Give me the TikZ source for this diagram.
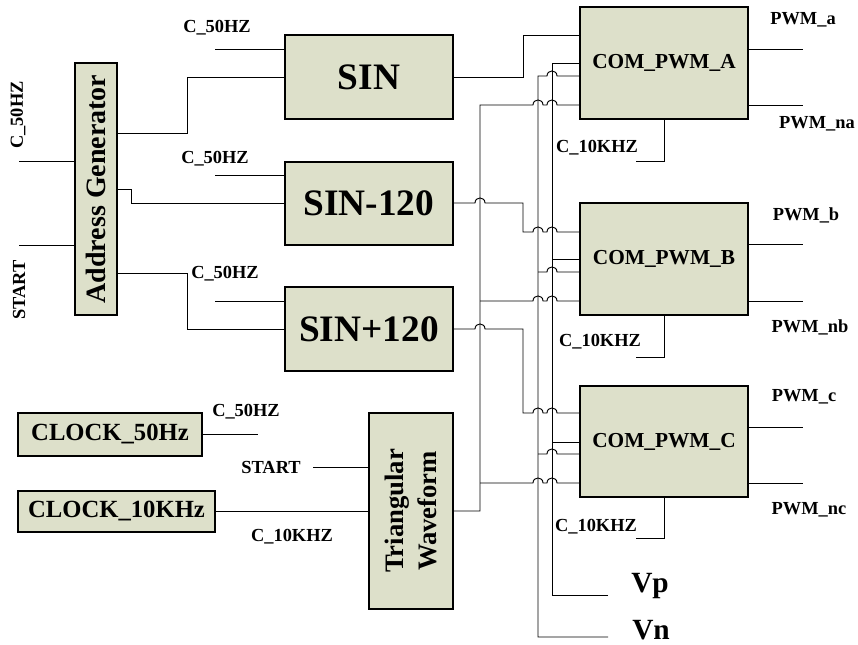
\documentclass[tikz,border=0pt]{standalone}
\usepackage{fontspec}
\setmainfont{Liberation Serif}
\definecolor{boxfill}{HTML}{DDE0CA}
\newcommand{\jmp}[2]{-- ({#1-5},#2) .. controls ({#1-5},{#2-6.7}) and ({#1+5},{#2-6.7}) .. ({#1+5},#2)}
\begin{document}
\begin{tikzpicture}[x=0.75pt,y=-0.75pt,
  blk/.style={draw=black, line width=0.9pt, fill=boxfill, inner sep=0pt},
  wire/.style={line width=0.7pt},
  lbl/.style={font=\bfseries\fontsize{13.8}{15}\selectfont, inner sep=0pt},
  bigf/.style={font=\bfseries\fontsize{28}{30}\selectfont},
  pwmf/.style={font=\bfseries\fontsize{16}{18}\selectfont},
  clkf/.style={font=\bfseries\fontsize{18.5}{20}\selectfont}]
\useasboundingbox (0,0) rectangle (858,645);
% blocks
\node[blk, minimum width=31.5pt, minimum height=189pt] (addr) at (96,189) {};
\node[rotate=90, inner sep=0pt, font=\bfseries\fontsize{21}{24}\selectfont] (addrT) at (addr.center) {Address Generator};
\node[blk, bigf, minimum width=126pt, minimum height=63pt] (sin) at (369,77) {SIN};
\node[blk, bigf, minimum width=126pt, minimum height=62.25pt] (sinm) at (369,203.5) {SIN-120};
\node[blk, bigf, minimum width=126pt, minimum height=63pt] (sinp) at (369,329) {SIN+120};
\node[blk, clkf, minimum width=138pt, minimum height=32.25pt] (clk50) at (110,434.5) {CLOCK\_50Hz};
\node[blk, clkf, minimum width=147.75pt, minimum height=30.75pt] (clk10) at (116.5,511.5) {CLOCK\_10KHz};
\node[blk, minimum width=63pt, minimum height=147pt] (tri) at (411,511) {};
\node[rotate=90, align=center, inner sep=0pt, font=\bfseries\fontsize{20}{24.75}\selectfont] (triT) at (tri.center) {Triangular\\Waveform};
\node[blk, pwmf, minimum width=126pt, minimum height=84pt] (pa) at (664,63) {COM\_PWM\_A};
\node[blk, pwmf, minimum width=126pt, minimum height=84pt] (pb) at (664,259) {COM\_PWM\_B};
\node[blk, pwmf, minimum width=126pt, minimum height=83.25pt] (pc) at (664,441.5) {COM\_PWM\_C};
% free ends
\coordinate (inC) at (19,161);
\coordinate (inS) at (19,245);
\coordinate (c1) at (215,49);
\coordinate (c2) at (215,175);
\coordinate (c3) at (215,301);
\coordinate (c4) at (258,434);
\coordinate (st) at (313,467);
\coordinate (vpE) at (608,595);
\coordinate (vnE) at (608,637);
\coordinate (oa1) at (803,49);
\coordinate (oa2) at (803,105);
\coordinate (ob1) at (803,244);
\coordinate (ob2) at (803,301);
\coordinate (oc1) at (803,427);
\coordinate (oc2) at (803,483);
% address generator wires
\draw[wire] (inC) -- (addr.west |- inC);
\draw[wire] (inS) -- (addr.west |- inS);
\draw[wire] (addr.east |- 0,133) -| (187,77) -- (sin.west);
\draw[wire] (addr.east |- 0,189) -- (131,189) |- (sinm.west);
\draw[wire] (addr.east |- 0,273) -| (187,329) -- (sinp.west);
\draw[wire] (c1) -- (sin.west |- c1);
\draw[wire] (c2) -- (sinm.west |- c2);
\draw[wire] (c3) -- (sinp.west |- c3);
\draw[wire] (clk50.east |- c4) -- (c4);
\draw[wire] (st) -- (tri.west |- st);
\draw[wire] (clk10.east) -- (tri.west |- clk10.east);
% sine outputs
\draw[wire] (sin.east) -- (523,77) |- (pa.west |- 0,35);
\draw[wire] (sinm.east |- 0,203) \jmp{480}{203} -- (523,203) -- (523,232) \jmp{538}{232} \jmp{552}{232} -- (pb.west |- 0,232);
\draw[wire] (sinp.east) \jmp{480}{329} -- (523,329) -- (523,413) \jmp{538}{413} \jmp{552}{413} -- (pc.west |- 0,413);
% triangular bus
\draw[wire] (tri.east |- 0,511) -- (480,511) -- (480,105) \jmp{538}{105} \jmp{552}{105} -- (pa.west |- 0,105);
\draw[wire] (480,301) \jmp{538}{301} \jmp{552}{301} -- (pb.west |- 0,301);
\draw[wire] (480,483) \jmp{538}{483} \jmp{552}{483} -- (pc.west |- 0,483);
% Vp bus
\draw[wire] (vpE) -| (552,63) -- (pa.west |- 0,63);
\draw[wire] (552,259) -- (pb.west);
\draw[wire] (552,442) -- (pc.west |- 0,442);
% Vn bus
\draw[wire] (vnE) -| (538,76) \jmp{552}{76} -- (pa.west |- 0,76);
\draw[wire] (538,272) \jmp{552}{272} -- (pb.west |- 0,272);
\draw[wire] (538,454) \jmp{552}{454} -- (pc.west |- 0,454);
% outputs
\draw[wire] (pa.east |- oa1) -- (oa1);
\draw[wire] (pa.east |- oa2) -- (oa2);
\draw[wire] (pb.east |- ob1) -- (ob1);
\draw[wire] (pb.east |- ob2) -- (ob2);
\draw[wire] (pc.east |- oc1) -- (oc1);
\draw[wire] (pc.east |- oc2) -- (oc2);
% C_10KHZ clock stubs
\draw[wire] (pa.south) -- ++(0,42) -- ++(-28,0);
\draw[wire] (pb.south) -- ++(0,42) -- ++(-28,0);
\draw[wire] (pc.south) -- ++(0,41) -- ++(-28,0);
% labels
\node[lbl, rotate=90] (lC) at (18,115) {C\_50HZ};
\node[lbl, rotate=90] (lS) at (19,290) {START};
\node[lbl] (l1) at (217,28) {C\_50HZ};
\node[lbl] (l2) at (215,159) {C\_50HZ};
\node[lbl] (l3) at (225,274) {C\_50HZ};
\node[lbl] (l4) at (246,412) {C\_50HZ};
\node[lbl] (l5) at (271,467) {START};
\node[lbl] (l6) at (292,537) {C\_10KHZ};
\node[lbl] (ka) at (597,148) {C\_10KHZ};
\node[lbl] (kb) at (600,342) {C\_10KHZ};
\node[lbl] (kc) at (596,527) {C\_10KHZ};
\node[lbl] (pwa) at (803,20) {PWM\_a};
\node[lbl] (pwna) at (817,124) {PWM\_na};
\node[lbl] (pwb) at (806,215) {PWM\_b};
\node[lbl] (pwnb) at (810,327) {PWM\_nb};
\node[lbl] (pwc) at (804,397) {PWM\_c};
\node[lbl] (pwnc) at (809,510) {PWM\_nc};
\node[inner sep=0pt, font=\bfseries\fontsize{22}{24}\selectfont] (vp) at (650,586) {Vp};
\node[inner sep=0pt, font=\bfseries\fontsize{22}{24}\selectfont] (vn) at (651,630) {Vn};
\end{tikzpicture}
\end{document}
